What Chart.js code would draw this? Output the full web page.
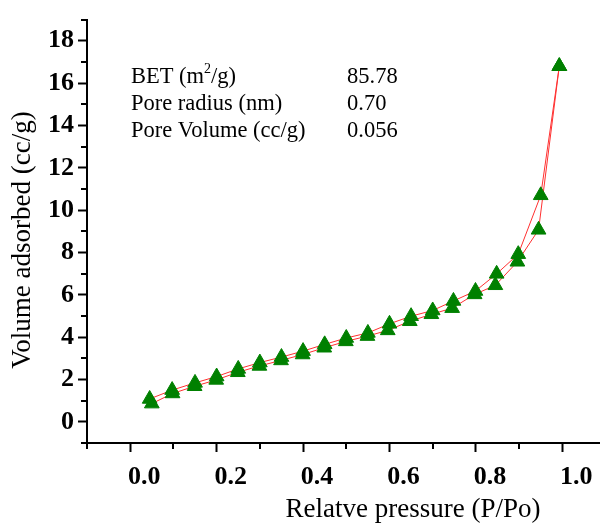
<!DOCTYPE html>
<html>
<head>
<meta charset="utf-8">
<script src="https://cdn.jsdelivr.net/npm/chart.js@4.4.1/dist/chart.umd.min.js"></script>
<style>
  html, body { margin: 0; padding: 0; background: #fff; }
</style>
</head>
<body>
<canvas id="bet-chart" width="609" height="524"></canvas>
<script>
// Adsorption branch (P/Po, cc/g)
var adsPressure = [0.050, 0.098, 0.149, 0.199, 0.249, 0.299, 0.349, 0.399, 0.449, 0.499, 0.549, 0.596, 0.647, 0.697, 0.745, 0.797, 0.845, 0.896, 0.945, 0.993];
var adsVolume   = [0.86, 1.34, 1.68, 1.98, 2.34, 2.64, 2.90, 3.18, 3.50, 3.80, 4.05, 4.32, 4.75, 5.08, 5.37, 6.02, 6.45, 7.56, 9.07, 16.8];

// Desorption branch
var desPressure = [0.993, 0.950, 0.898, 0.848, 0.799, 0.748, 0.700, 0.650, 0.600, 0.550, 0.500, 0.450, 0.400, 0.350, 0.300, 0.250, 0.200, 0.150, 0.097, 0.045];
var desVolume   = [16.8, 10.7, 7.92, 6.99, 6.18, 5.71, 5.26, 4.99, 4.63, 4.20, 3.96, 3.66, 3.34, 3.06, 2.80, 2.50, 2.14, 1.84, 1.50, 1.08];

// Axis ticks
var xMajor = [0.0, 0.2, 0.4, 0.6, 0.8, 1.0];
var xMinor = [-0.1, 0.1, 0.3, 0.5, 0.7, 0.9];
var yMajor = [0, 2, 4, 6, 8, 10, 12, 14, 16, 18];
var yMinor = [-1, 1, 3, 5, 7, 9, 11, 13, 15, 17, 19];

// Text box in the upper left
var infoLabels = ['BET (m\u00B2/g)', 'Pore radius (nm)', 'Pore Volume (cc/g)'];
var infoValues = ['85.78', '0.70', '0.056'];

var xTitle = 'Relatve pressure (P/Po)';
var yTitle = 'Volume adsorbed (cc/g)';

var SERIF = "'Liberation Serif', 'Times New Roman', serif";

function toPoints(xs, ys) {
    return xs.map(function (x, i) { return { x: x, y: ys[i] }; });
}

// Minor ticks, axis titles and the info text
var extras = {
    id: 'extras',
    afterDraw: function (chart) {
        var ctx = chart.ctx;
        var sx = chart.scales.x;
        var sy = chart.scales.y;
        var area = chart.chartArea;
        ctx.save();

        ctx.strokeStyle = '#000';
        ctx.lineWidth = 2;
        ctx.beginPath();
        xMinor.forEach(function (v) {
            var px = Math.round(sx.getPixelForValue(v));
            ctx.moveTo(px, area.bottom);
            ctx.lineTo(px, area.bottom + 6);
        });
        yMinor.forEach(function (v) {
            var py = Math.round(sy.getPixelForValue(v));
            ctx.moveTo(area.left, py);
            ctx.lineTo(area.left - 6, py);
        });
        ctx.stroke();

        ctx.fillStyle = '#000';
        ctx.textBaseline = 'middle';
        ctx.textAlign = 'center';
        ctx.font = '27px ' + SERIF;
        ctx.fillText(xTitle, 413, 510);

        ctx.save();
        ctx.translate(23, 240);
        ctx.rotate(-Math.PI / 2);
        ctx.fillText(yTitle, 0, 0);
        ctx.restore();

        // info rows, superscript drawn smaller and raised
        ctx.textAlign = 'left';
        infoLabels.forEach(function (label, i) {
            var y = 77 + i * 27;
            var x = 131;
            var parts = label.split('\u00B2');
            ctx.font = '22.5px ' + SERIF;
            ctx.fillText(parts[0], x, y);
            if (parts.length > 1) {
                x += ctx.measureText(parts[0]).width;
                ctx.font = '14px ' + SERIF;
                ctx.fillText('2', x, y - 8);
                x += ctx.measureText('2').width;
                ctx.font = '22.5px ' + SERIF;
                ctx.fillText(parts[1], x, y);
            }
            ctx.fillText(infoValues[i], 347, y);
        });

        ctx.restore();
    }
};

var ctx = document.getElementById('bet-chart').getContext('2d');
var betChart = new Chart(ctx, {
    type: 'scatter',
    data: {
        datasets: [
            {
                label: 'Adsorption',
                data: toPoints(adsPressure, adsVolume),
                showLine: false,
                pointStyle: 'triangle',
                pointRadius: 8.5,
                backgroundColor: '#008000',
                borderColor: '#008000',
                borderWidth: 1,
                order: 0
            },
            {
                label: 'Desorption',
                data: toPoints(desPressure, desVolume),
                showLine: false,
                pointStyle: 'triangle',
                pointRadius: 8.5,
                backgroundColor: '#008000',
                borderColor: '#008000',
                borderWidth: 1,
                order: 0
            },
            {
                label: 'Adsorption line',
                data: toPoints(adsPressure, adsVolume),
                showLine: true,
                pointRadius: 0,
                borderColor: '#ff3030',
                borderWidth: 1,
                tension: 0,
                order: 1
            },
            {
                label: 'Desorption line',
                data: toPoints(desPressure, desVolume),
                showLine: true,
                pointRadius: 0,
                borderColor: '#ff3030',
                borderWidth: 1,
                tension: 0,
                order: 1
            }
        ]
    },
    options: {
        responsive: false,
        animation: false,
        layout: { padding: { top: 13, right: 0, left: 0, bottom: 0 } },
        plugins: {
            legend: { display: false },
            tooltip: { enabled: false }
        },
        scales: {
            x: {
                type: 'linear',
                min: -0.1,
                max: 1.086,
                afterFit: function (scale) { scale.height = 81; },
                afterBuildTicks: function (scale) {
                    scale.ticks = xMajor.map(function (v) { return { value: v }; });
                },
                border: { display: true, color: '#000', width: 2 },
                grid: { drawOnChartArea: false, drawTicks: true, tickLength: 9, tickWidth: 2, tickColor: '#000' },
                ticks: {
                    autoSkip: false,
                    maxRotation: 0,
                    padding: 10,
                    labelOffset: 14,
                    color: '#000',
                    font: { family: SERIF, size: 26, weight: 'bold' },
                    callback: function (v) { return Number(v).toFixed(1); }
                }
            },
            y: {
                type: 'linear',
                min: -1,
                max: 19,
                afterFit: function (scale) { scale.width = 87; },
                afterBuildTicks: function (scale) {
                    scale.ticks = yMajor.map(function (v) { return { value: v }; });
                },
                border: { display: true, color: '#000', width: 2 },
                grid: { drawOnChartArea: false, drawTicks: true, tickLength: 9, tickWidth: 2, tickColor: '#000' },
                ticks: {
                    autoSkip: false,
                    padding: 4,
                    color: '#000',
                    font: { family: SERIF, size: 26, weight: 'bold' },
                    callback: function (v) { return String(v); }
                }
            }
        }
    },
    plugins: [extras]
});
</script>
</body>
</html>
